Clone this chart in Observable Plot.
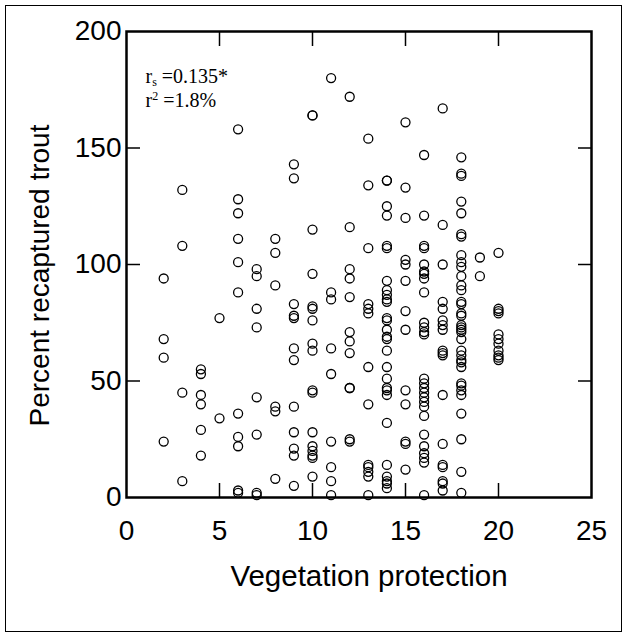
<!DOCTYPE html>
<html>
<head>
<meta charset="utf-8">
<script src="https://cdn.jsdelivr.net/npm/d3@7"></script>
<script src="https://cdn.jsdelivr.net/npm/@observablehq/plot@0.6"></script>
<style>
  html, body { margin: 0; padding: 0; background: #fff; }
  #wrap { position: relative; width: 627px; height: 637px; }
  #border { position: absolute; left: 5px; top: 5px; width: 615px; height: 625px; border: 1.5px solid #000; pointer-events: none; }
</style>
</head>
<body>
<div id="wrap"><div id="border"></div></div>
<script>
// Vegetation protection score (x) and the percent recaptured trout values observed at each score
const vegetation = [2, 3, 4, 5, 6, 7, 8, 9, 10, 11, 12, 13, 14, 15, 16, 17, 18, 19, 20];
const recaptured = [
  [94, 68, 60, 24],
  [132, 108, 45, 7],
  [55, 53, 44, 40, 29, 18],
  [77, 34],
  [158, 128, 122, 111, 101, 88, 36, 26, 22, 3, 2],
  [98, 95, 81, 73, 43, 27, 2, 1],
  [111, 105, 91, 39, 37, 8],
  [143, 137, 83, 78, 77, 64, 59, 39, 28, 21, 18, 5],
  [164, 164, 115, 96, 82, 81, 76, 66, 63, 46, 45, 28, 22, 20, 18, 17, 9],
  [180, 88, 85, 64, 53, 24, 13, 7, 1],
  [172, 116, 98, 94, 86, 71, 67, 62, 47, 47, 25, 24],
  [154, 134, 107, 83, 81, 79, 56, 40, 14, 13, 11, 9, 1],
  [136, 136, 125, 121, 108, 107, 93, 89, 87, 85, 84, 77, 76, 72, 69, 68, 63, 56, 51, 47, 46, 44, 32, 14, 9, 7, 6, 4],
  [161, 133, 120, 102, 100, 93, 80, 72, 46, 40, 24, 23, 12],
  [147, 121, 108, 107, 100, 97, 96, 94, 88, 75, 73, 71, 70, 51, 49, 47, 45, 43, 41, 39, 35, 27, 22, 19, 17, 15, 1],
  [167, 117, 100, 84, 81, 76, 74, 72, 63, 62, 61, 44, 23, 14, 13, 7, 6, 3],
  [146, 139, 138, 127, 122, 113, 112, 104, 101, 99, 95, 91, 89, 84, 83, 79, 78, 74, 73, 72, 71, 68, 63, 61, 59, 58, 56, 49, 48, 46, 44, 36, 25, 11, 2],
  [103, 95],
  [105, 81, 80, 79, 70, 68, 66, 63, 61, 60, 59]
];
const xTicks = [0, 5, 10, 15, 20, 25];
const xInnerTicks = [5, 10, 15, 20];
const yTicks = [0, 50, 100, 150, 200];
const yInnerTicks = [50, 100, 150];
const xTitle = "Vegetation protection";
const yTitle = "Percent recaptured trout";
const statLines = ["rs =0.135*", "r2 =1.8%"];

const points = vegetation.flatMap((v, i) => recaptured[i].map(p => ({veg: v, pct: p})));

const sans = "'Liberation Sans', Arial, sans-serif";
const serif = "'Liberation Serif', 'Times New Roman', serif";

const chart = Plot.plot({
  width: 627,
  height: 637,
  marginLeft: 126,
  marginRight: 36,
  marginTop: 31,
  marginBottom: 140,
  style: {fontFamily: sans, fontSize: "28px", color: "#000", background: "transparent"},
  x: {domain: [0, 25]},
  y: {domain: [0, 200]},
  marks: [
    Plot.axisX(xTicks, {anchor: "bottom", tickSize: 0, tickPadding: 23, label: null, fontSize: 28}),
    Plot.axisX(xInnerTicks, {anchor: "bottom", tickSize: -14, fill: "none", label: null, strokeWidth: 1.5}),
    Plot.axisX(xInnerTicks, {anchor: "top", tickSize: -14, fill: "none", label: null, strokeWidth: 1.5}),
    Plot.axisY(yTicks, {anchor: "left", tickSize: 0, tickPadding: 5, label: null, fontSize: 28}),
    Plot.axisY(yInnerTicks, {anchor: "left", tickSize: -14, fill: "none", label: null, strokeWidth: 1.5}),
    Plot.axisY(yInnerTicks, {anchor: "right", tickSize: -14, fill: "none", label: null, strokeWidth: 1.5}),
    Plot.dot(points, {x: "veg", y: "pct", r: 4.5, stroke: "#000", strokeWidth: 1.3, fill: "none"}),
    Plot.frame({stroke: "#000", strokeWidth: 2.5}),
    Plot.text([xTitle], {frameAnchor: "bottom", text: d => d, dx: 10, dy: 88, textAnchor: "middle", lineAnchor: "bottom", fontSize: 29.5}),
    Plot.text([yTitle], {frameAnchor: "left", text: d => d, rotate: -90, dx: -97, dy: 11, textAnchor: "middle", lineAnchor: "top", fontSize: 28}),
    Plot.text([statLines[0]], {frameAnchor: "top-left", text: d => d, dx: 19, dy: 51, textAnchor: "start", lineAnchor: "bottom", fontSize: 20, fontFamily: serif}),
    Plot.text([statLines[1]], {frameAnchor: "top-left", text: d => d, dx: 19, dy: 75, textAnchor: "start", lineAnchor: "bottom", fontSize: 20, fontFamily: serif})
  ]
});

// Typeset the subscript / superscript in the statistics annotation
d3.select(chart).selectAll("text").each(function() {
  const t = d3.select(this);
  const s = t.text();
  if (s === statLines[0] || s === statLines[1]) {
    const sub = s === statLines[0];
    t.text(null);
    t.append("tspan").text("r");
    t.append("tspan").attr("font-size", 12).attr("dy", sub ? 3 : -7).text(sub ? "s" : "2");
    t.append("tspan").attr("dy", sub ? -3 : 7).text(s.slice(2));
  }
});

document.getElementById("wrap").appendChild(chart);
chart.style.position = "absolute";
chart.style.left = "0";
chart.style.top = "0";
</script>
</body>
</html>
